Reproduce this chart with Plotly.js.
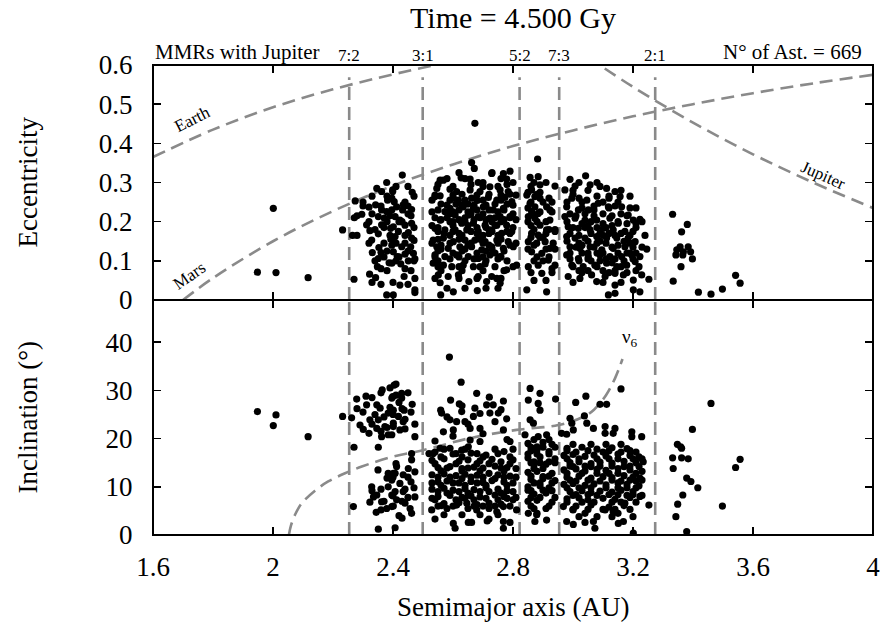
<!DOCTYPE html>
<html><head><meta charset="utf-8">
<script src="https://cdn.plot.ly/plotly-3.0.1.min.js"></script>
<style>html,body{margin:0;padding:0;background:#fff}#chart{width:882px;height:634px}</style>
</head><body><div id="chart"></div>
<script>
// ---------- data ----------
const aTop = [
2.001,1.948,2.010,2.117,2.232,2.270,2.274,2.271,2.265,2.296,2.320,2.346,2.379,2.362,2.342,2.362,2.379,2.351,2.371,2.396,2.312,2.323,2.329,2.351,2.362,2.392,2.393,2.331,2.353,2.360,2.351,2.401,2.387,2.348,2.322,2.342,2.379,2.382,2.399,2.404,
2.431,2.464,2.399,2.396,2.412,2.434,2.432,2.407,2.423,2.440,2.462,2.462,2.401,2.418,2.451,2.462,2.407,2.396,2.429,2.459,2.470,2.440,2.468,2.414,2.426,2.451,2.473,2.396,2.437,2.423,2.473,2.473,2.473,2.401,
2.673,2.662,2.671,2.557,2.568,2.627,2.657,2.684,2.729,2.768,2.790,2.779,
2.546,2.590,2.612,2.657,2.690,2.723,2.757,2.784,
2.540,2.557,2.601,2.618,2.662,2.681,2.718,2.746,2.773,2.796,
2.590,2.634,2.668,2.701,2.734,2.768,
2.573,2.607,2.651,2.684,2.723,2.757,2.790,
2.557,2.590,2.629,2.668,2.707,2.746,2.779,
2.540,2.573,2.607,2.646,2.684,2.723,2.762,2.796,
2.534,2.568,2.601,2.640,2.673,2.707,2.746,2.784,
2.546,2.584,2.623,2.662,2.696,2.729,2.768,2.801,
2.540,2.573,2.612,2.651,2.684,2.723,2.757,
2.534,2.568,2.596,2.634,2.668,2.707,2.740,2.779,2.812,
2.551,2.584,2.618,2.653,2.684,2.712,2.729,2.757,2.557,2.601,2.559,2.681,2.746,
2.882,2.857,2.884,2.890,2.862,2.846,2.873,2.890,2.857,2.873,2.862,2.884,2.851,2.873,2.912,2.923,2.940,2.890,2.923,2.912,2.940,2.862,2.884,2.851,2.879,2.907,2.934,2.862,2.896,2.923,2.851,2.884,2.918,2.940,2.896,2.846,2.912,
3.042,2.990,3.007,3.057,3.112,3.140,2.973,2.996,3.046,3.084,3.118,3.157,3.162,2.979,3.018,3.051,3.184,3.223,3.201,
2.973,3.007,3.040,3.079,3.123,3.151,
2.984,3.018,3.057,3.101,3.134,3.173,
2.979,3.007,3.040,3.079,3.112,3.146,3.184,3.207,
2.990,3.023,3.057,3.096,3.134,3.173,3.246,
2.979,3.018,3.051,3.090,3.123,3.162,3.196,3.223,
2.996,3.034,3.073,3.112,3.146,3.179,3.207,
2.984,3.023,3.062,3.107,3.140,3.168,3.229,3.253,3.079,3.140,3.201,3.223,3.201,3.118,3.140,
3.332,3.381,3.362,3.357,3.384,3.346,3.368,3.392,3.343,3.366,3.398,3.360,3.334,3.418,3.460,3.498,3.542,3.557,
2.60,2.70,2.75,2.63,2.72,2.79,2.56,2.61,2.65,2.74,2.78,2.59,2.66,2.70,2.80,2.60,2.64,2.73,2.76,2.55,2.68,2.71,2.80,2.59,2.63,2.70,2.75,2.56,2.65,2.72,2.79,2.60,2.68,2.74,2.55,2.64,2.71,2.78,
2.86,2.88,2.85,2.87,2.86,2.88,2.92,2.87,2.91,
3.00,3.03,3.07,3.10,3.05,3.09,3.13,3.03,3.08,3.15,3.18,3.06,3.13,3.20,3.02,3.10
];
const eTop = [
0.234,0.071,0.070,0.057,0.179,0.053,0.253,0.210,0.165,0.219,0.237,0.285,0.300,0.277,0.243,0.230,0.226,0.213,0.209,0.230,0.192,0.177,0.153,0.169,0.192,0.183,0.155,0.121,0.134,0.121,0.106,0.123,0.095,0.085,0.066,0.057,0.013,0.255,0.281,0.251,
0.319,0.275,0.277,0.260,0.238,0.243,0.230,0.213,0.204,0.191,0.196,0.231,0.187,0.175,0.172,0.158,0.162,0.140,0.136,0.136,0.152,0.117,0.119,0.111,0.092,0.100,0.105,0.094,0.060,0.038,0.055,0.026,0.019,0.013,
0.451,0.351,0.336,0.306,0.306,0.312,0.309,0.300,0.323,0.323,0.329,0.309,
0.285,0.283,0.277,0.281,0.277,0.289,0.281,0.277,
0.264,0.266,0.260,0.255,0.260,0.254,0.262,0.255,0.262,0.251,
0.234,0.238,0.234,0.238,0.230,0.234,
0.226,0.217,0.217,0.213,0.209,0.213,0.213,
0.204,0.200,0.196,0.196,0.191,0.191,0.191,
0.183,0.179,0.179,0.179,0.175,0.179,0.170,0.175,
0.153,0.158,0.149,0.153,0.153,0.149,0.153,0.149,
0.136,0.132,0.136,0.136,0.128,0.136,0.132,0.136,
0.115,0.111,0.115,0.111,0.106,0.115,0.111,
0.094,0.089,0.085,0.089,0.085,0.092,0.085,0.077,0.089,
0.064,0.060,0.064,0.047,0.060,0.047,0.060,0.043,0.044,0.021,0.013,0.024,0.055,
0.360,0.313,0.315,0.294,0.281,0.268,0.264,0.260,0.247,0.238,0.226,0.221,0.213,0.209,0.238,0.230,0.291,0.191,0.204,0.179,0.175,0.170,0.166,0.149,0.145,0.149,0.145,0.123,0.119,0.132,0.085,0.089,0.102,0.089,0.068,0.026,0.021,
0.317,0.308,0.291,0.294,0.285,0.277,0.281,0.260,0.255,0.247,0.238,0.264,0.238,0.238,0.230,0.230,0.217,0.206,0.204,
0.213,0.209,0.204,0.204,0.209,0.196,
0.187,0.183,0.179,0.183,0.179,0.175,
0.162,0.158,0.158,0.162,0.158,0.158,0.158,0.149,
0.136,0.132,0.136,0.128,0.132,0.136,0.130,
0.115,0.106,0.111,0.115,0.111,0.111,0.115,0.111,
0.089,0.085,0.089,0.094,0.085,0.089,0.098,
0.060,0.055,0.064,0.060,0.068,0.064,0.064,0.053,0.047,0.038,0.051,0.021,0.026,0.013,0.017,
0.219,0.193,0.174,0.136,0.136,0.128,0.123,0.123,0.115,0.115,0.105,0.085,0.048,0.020,0.015,0.028,0.063,0.043,
0.29,0.29,0.29,0.27,0.27,0.27,0.245,0.245,0.245,0.245,0.245,0.22,0.22,0.22,0.22,0.20,0.20,0.20,0.20,0.185,0.185,0.185,0.185,0.165,0.165,0.165,0.165,0.14,0.14,0.14,0.14,0.12,0.12,0.12,0.10,0.10,0.10,0.10,
0.29,0.27,0.235,0.215,0.19,0.20,0.26,0.14,0.17,
0.27,0.25,0.23,0.22,0.19,0.17,0.19,0.14,0.145,0.14,0.12,0.10,0.095,0.175,0.075,0.075
];
// further asteroids of the densest parts of the (a, e) panel
const aTop2 = [
2.58,2.64,2.76, 2.70,2.80, 2.53,2.59,2.64,2.70,2.76, 2.55,2.62,2.68,2.72,2.77, 2.54,2.58,2.64,2.69,2.74,2.79,
2.55,2.60,2.66,2.73,2.78, 2.55,2.62,2.69,2.76, 2.55,2.63,2.71,2.77, 2.59,2.67,2.75, 2.56,2.63,2.70,2.77, 2.58,2.71,
2.30,2.44,2.33,2.45,2.38,2.42,2.34,2.37,2.44,2.37,2.42,2.36,2.44,2.36,2.45,
2.93,2.87,2.92,2.90,2.88,2.92,2.86,2.93,
3.09,3.02,3.12,3.07,3.14,2.99,3.04,3.16,3.03,3.10,3.18,3.21,2.99,3.06,3.12,3.16,3.02,3.11,3.19,2.99,3.05,3.10,3.15,3.21,3.02,3.09,3.17,3.05,3.14,3.21
];
const eTop2 = [
0.31,0.31,0.31, 0.30,0.30, 0.255,0.255,0.255,0.255,0.255, 0.23,0.23,0.23,0.23,0.23, 0.21,0.21,0.21,0.21,0.21,0.21,
0.175,0.175,0.175,0.175,0.175, 0.155,0.155,0.155,0.155, 0.125,0.125,0.125,0.125, 0.105,0.105,0.105, 0.075,0.075,0.075,0.075, 0.03,0.03,
0.25,0.25,0.22,0.22,0.20,0.20,0.18,0.145,0.145,0.11,0.11,0.08,0.08,0.04,0.04,
0.25,0.18,0.18,0.16,0.11,0.11,0.07,0.07,
0.29,0.26,0.26,0.24,0.24,0.22,0.22,0.22,0.195,0.195,0.195,0.195,0.17,0.17,0.17,0.17,0.145,0.145,0.145,0.12,0.12,0.12,0.12,0.12,0.10,0.10,0.10,0.075,0.075,0.075
];
const aTop3 = [
2.62,2.73, 2.55,2.66,2.78, 2.54,2.60,2.68,2.76,2.81, 2.58,2.63,2.67,2.71,2.80, 2.53,2.60,2.65,2.75, 2.56,2.62,2.67,2.71,2.77,2.81,
2.53,2.60,2.65,2.74, 2.57,2.62,2.68,2.72,2.79, 2.53,2.59,2.66,2.70,2.75,2.81, 2.56,2.64,2.73, 2.54,2.62,2.70,2.76, 2.55,2.62,2.69,2.80,
2.54,2.62,2.68,2.76, 2.64,2.75,
2.87,2.91, 2.85,2.89, 2.86,2.90, 2.89,2.93, 2.85,2.91, 2.94, 2.86,2.89, 2.85,2.91,2.94, 2.87,2.90, 2.93, 2.87,2.91,
3.02,3.08, 3.00,3.05,3.16, 3.08,3.12,3.19, 2.98,3.10,3.15, 3.03,3.12,3.19,3.21, 3.01,3.07,3.13,3.18, 2.98,3.06,3.15,3.23,
3.00,3.04,3.08,3.11,3.21, 3.02,3.10,3.14,3.19,3.24, 2.98,3.05,3.09,3.17, 3.01,3.07,3.13,3.20,3.23, 3.03,3.08,3.19,
2.99,3.05,3.11,3.14,3.20, 3.00,3.08,3.16,3.22, 3.03,3.12,3.18, 3.00,3.10,3.16,
2.41,2.45, 2.33,2.38,2.47, 2.30,2.36,2.45, 2.28,2.39,2.46, 2.32,2.43, 2.37,2.47, 2.28,2.39,2.44, 2.32,2.41, 2.38,2.45, 2.34,2.41,2.47, 2.38,2.46, 2.33,2.40
];
const eTop3 = [
0.325,0.325, 0.295,0.295,0.295, 0.268,0.268,0.268,0.268,0.268, 0.242,0.242,0.242,0.242,0.242, 0.225,0.225,0.225,0.225, 0.205,0.205,0.205,0.205,0.205,0.205,
0.19,0.19,0.19,0.19, 0.17,0.17,0.17,0.17,0.17, 0.145,0.145,0.145,0.145,0.145,0.145, 0.13,0.13,0.13, 0.11,0.11,0.11,0.11, 0.085,0.085,0.085,0.085,
0.055,0.055,0.055,0.055, 0.03,0.03,
0.30,0.30, 0.275,0.275, 0.25,0.25, 0.225,0.225, 0.20,0.20, 0.18, 0.16,0.16, 0.13,0.13,0.13, 0.10,0.10, 0.08, 0.05,0.05,
0.30,0.30, 0.28,0.28,0.28, 0.265,0.265,0.265, 0.25,0.25,0.25, 0.235,0.235,0.235,0.235, 0.215,0.215,0.215,0.215, 0.20,0.20,0.20,0.20,
0.185,0.185,0.185,0.185,0.185, 0.165,0.165,0.165,0.165,0.165, 0.15,0.15,0.15,0.15, 0.135,0.135,0.135,0.135,0.135, 0.12,0.12,0.12,
0.105,0.105,0.105,0.105,0.105, 0.085,0.085,0.085,0.085, 0.07,0.07,0.07, 0.045,0.045,0.045,
0.29,0.29, 0.265,0.265,0.265, 0.24,0.24,0.24, 0.215,0.215,0.215, 0.20,0.20, 0.185,0.185, 0.165,0.165,0.165, 0.145,0.145, 0.125,0.125, 0.10,0.10,0.10, 0.075,0.075, 0.045,0.045
];
const aBot = [
1.948,2.010,2.001,2.117,2.232,2.279,2.270,2.262,2.268,2.312,2.346,2.364,2.357,2.396,2.404,2.384,2.351,2.323,2.301,2.320,2.346,2.362,2.384,2.373,2.401,2.351,2.384,2.401,2.329,2.384,2.346,2.335,2.362,2.323,2.396,2.344,2.379,2.351,2.401,
2.410,2.399,2.429,2.429,2.437,2.401,2.418,2.434,2.401,2.423,2.464,2.473,2.473,2.396,2.462,2.462,2.451,2.473,2.412,2.434,2.407,2.396,2.423,2.434,2.407,2.412,2.440,2.457,2.473,2.462,2.396,2.407,
2.588,2.627,2.592,2.621,2.679,2.721,2.768,2.559,2.562,2.629,2.673,2.668,2.712,2.734,2.751,2.723,2.779,2.590,2.612,2.640,2.568,2.601,2.657,2.690,2.768,2.657,2.690,2.790,2.534,2.557,2.590,2.629,2.651,
2.529,2.562,2.601,2.607,2.651,2.662,2.714,2.768,2.790,2.768,2.812,2.612,2.646,2.679,2.746,2.768,
2.857,2.890,2.851,2.884,2.890,2.942,3.009,3.043,3.160,3.090,3.112,2.990,2.996,3.038,2.857,2.868,3.001,3.046,3.068,3.107,3.140,3.107,3.134,3.196,3.196,3.229,2.962,2.979,2.884,2.912,2.840,
3.253,3.223,3.234,3.201,3.168,3.151,3.073,3.068,3.040,3.001,2.979,2.912,2.873,2.879,2.851,2.968,3.000,3.107,3.134,3.173,3.223,
3.460,3.398,3.348,3.359,3.362,3.332,3.362,3.384,3.334,3.379,3.393,3.416,3.366,3.349,3.343,3.379,3.498,3.542,3.557,
2.54,2.60,2.66,2.71,2.77,
2.53,2.57,2.62,2.65,2.69,2.73,2.76,2.80,
2.55,2.59,2.63,2.67,2.70,2.74,2.78,2.81,
2.53,2.57,2.61,2.64,2.68,2.72,2.75,2.79,
2.55,2.58,2.62,2.66,2.70,2.73,2.77,2.80,
2.53,2.57,2.60,2.64,2.67,2.71,2.75,2.78,
2.55,2.59,2.63,2.66,2.69,2.74,2.77,2.81,
2.57,2.62,2.68,2.72,2.76,
2.85,2.90,2.93,2.86,2.88,2.92,2.85,2.89,2.94,2.87,2.91,2.85,2.88,2.93,2.86,2.90,2.94,2.85,2.89,2.92,2.87,2.91,2.85,2.88,2.93,
2.98,3.03,3.08,3.13,3.18,
2.97,3.00,3.04,3.07,3.11,3.15,3.19,3.22,
2.99,3.02,3.06,3.09,3.13,3.17,3.21,
2.97,3.01,3.04,3.08,3.11,3.15,3.19,3.23,
2.98,3.02,3.06,3.10,3.13,3.17,3.20,
2.97,3.00,3.04,3.07,3.11,3.15,3.18,3.22,
2.99,3.03,3.06,3.09,3.13,3.16,3.20,
2.98,3.02,3.05,3.10,3.14,3.19,
3.01,3.06,3.12,3.17
];
const incBot = [
25.6,24.9,22.7,20.4,24.6,28.2,18.2,24.3,5.9,27.0,27.0,30.1,26.3,28.4,31.1,25.3,23.9,23.9,21.9,21.1,22.1,20.4,20.8,22.5,23.2,18.2,12.8,12.8,10.0,10.0,8.3,7.9,6.9,6.8,8.3,4.7,5.5,1.2,6.0,
31.3,28.7,29.4,28.4,25.9,25.9,24.6,23.5,22.5,21.8,27.1,23.0,20.4,20.8,16.9,15.6,13.8,13.1,14.2,12.5,12.8,11.4,10.7,9.0,9.0,7.3,6.6,5.5,7.9,4.5,5.9,1.5,
36.9,31.7,28.0,27.2,29.4,28.6,27.8,25.9,25.3,25.6,26.3,24.6,27.0,27.0,25.3,25.3,24.1,23.9,23.5,23.5,21.4,21.8,22.1,22.1,21.8,19.7,19.4,19.4,16.9,18.0,18.0,17.6,18.3,
5.2,6.1,2.4,1.4,2.6,2.6,2.9,2.8,2.6,1.4,5.2,6.2,6.6,5.2,4.8,5.9,
30.4,29.4,28.0,27.3,25.9,28.2,27.5,28.8,30.3,27.1,27.1,24.2,23.2,24.7,23.9,23.2,21.8,23.2,22.1,22.5,22.1,21.1,21.1,21.4,20.4,20.4,21.1,20.9,20.4,20.8,20.8,
6.2,11.8,15.2,0.4,2.8,2.4,1.4,2.8,2.6,2.2,2.8,3.1,2.8,4.2,4.5,5.9,5.2,5.2,4.8,6.6,8.0,
27.3,21.9,18.8,18.3,18.0,16.0,16.0,15.8,13.8,11.8,11.1,9.8,8.3,6.4,3.8,0.7,6.0,14.0,15.7,
17.2,16.8,17.0,16.6,17.3,
15.5,15.8,15.3,15.6,15.4,15.7,15.2,15.6,
14.0,14.2,13.8,14.1,13.9,14.3,14.0,13.8,
12.5,12.7,12.3,12.6,12.4,12.8,12.5,12.2,
11.0,11.2,10.8,11.1,10.9,11.3,11.0,10.8,
9.5,9.7,9.3,9.6,9.4,9.8,9.5,9.2,
8.0,8.2,7.8,8.1,7.9,8.3,8.0,7.8,
6.5,6.7,6.3,6.6,6.4,
19.0,19.2,18.8,17.5,17.7,17.3,16.0,16.2,15.8,14.5,14.7,13.0,13.2,12.8,11.5,11.7,11.3,10.0,10.2,9.8,8.5,8.7,7.0,7.2,6.8,
18.0,18.2,17.8,18.1,17.9,
16.5,16.7,16.3,16.6,16.4,16.8,16.5,16.2,
15.0,15.2,14.8,15.1,14.9,15.3,15.0,
13.5,13.7,13.3,13.6,13.4,13.8,13.5,13.2,
12.0,12.2,11.8,12.1,11.9,12.3,12.0,
10.5,10.7,10.3,10.6,10.4,10.8,10.5,10.2,
9.0,9.2,8.8,9.1,8.9,9.3,9.0,
7.5,7.7,7.3,7.6,7.4,7.8,
6.0,6.2,5.8,6.1
];
// further asteroids of the densest parts of the (a, i) panel
const aBot2 = [
2.56,2.63,2.70,2.79, 2.56,2.63,2.69,2.77, 2.56,2.64,2.71,2.78, 2.54,2.61,2.67,2.75,2.80, 2.58,2.65,2.72,
2.88,2.87,2.92,2.90,2.86,2.93,2.87,2.91,
3.01,3.10,3.16,3.21, 3.00,3.06,3.17,3.22, 3.01,3.09,3.16,3.21, 3.00,3.08,3.18,3.23, 3.04,3.15,
2.40,2.45,2.36,2.44,2.37,2.43,2.42,
2.30,2.33,2.37,2.39,2.42,2.45,2.44,2.36,2.29
];
const incBot2 = [
16.2,16.2,16.2,16.2, 13.3,13.3,13.3,13.3, 10.3,10.3,10.3,10.3, 7.3,7.3,7.3,7.3,7.3, 5.5,5.5,5.5,
18.3,15.2,15.2,12.1,9.2,9.2,5.5,5.5,
17.2,17.2,17.2,17.2, 14.2,14.2,14.2,14.2, 11.2,11.2,11.2,11.2, 8.2,8.2,8.2,8.2, 4.5,4.5,
12.0,12.0,9.5,9.5,7.0,7.0,4.0,
25.5,28.5,24.5,26.5,27.5,29.5,22.0,21.5,22.8
];
const aBot3 = [
2.57,2.64,2.74,2.80, 2.52,2.61,2.68,2.75, 2.54,2.61,2.68,2.72,2.79, 2.58,2.65,2.76, 2.55,2.59,2.66,2.70,2.77,2.81, 2.63,2.74,
2.53,2.60,2.68, 2.55,2.62,2.69,2.72,2.80, 2.58,2.65,2.76, 2.53,2.64,2.71,2.78, 2.55,2.60,2.67,2.70,2.74,2.79, 2.57,2.63,2.69,2.75, 2.54,2.72,
2.87,2.92, 2.86,2.90,2.94, 2.85,2.88,2.92, 2.86,2.89,2.94, 2.87,2.90, 2.86,2.92, 2.87,2.89,2.93, 2.85,2.90, 2.86,2.89,2.94, 2.86,2.92, 2.88,
3.00,3.06,3.11,3.16, 2.98,3.05,3.12,3.19, 2.98,3.02,3.08,3.12,3.15,3.20,3.23, 2.99,3.04,3.09,3.13,3.19, 2.98,3.03,3.08,3.12,3.15,3.21,
2.99,3.05,3.13,3.19,3.23, 2.98,3.02,3.06,3.11,3.15,3.18,3.21, 3.01,3.05,3.12,3.15,3.20, 2.98,3.03,3.07,3.13,3.16,3.21, 3.00,3.05,3.10,3.14,3.19, 3.02,3.08,3.13,3.20,
2.35,2.41,2.46,2.38,2.33,2.40,2.45,2.36,2.43,2.47,
2.31,2.34,2.36,2.38,2.40,2.41,2.43,2.44,2.46,2.33,2.28,2.39,
2.54,2.60,2.65,2.70,2.74,2.78,2.63,2.58,2.76,2.69
];
const incBot3 = [
17.8,17.8,17.8,17.8, 16.9,16.9,16.9,16.9, 14.8,14.8,14.8,14.8,14.8, 13.9,13.9,13.9, 12.0,12.0,12.0,12.0,12.0,12.0, 11.7,11.7,
10.8,10.8,10.8, 9.0,9.0,9.0,9.0,9.0, 8.7,8.7,8.7, 7.6,7.6,7.6,7.6, 6.0,6.0,6.0,6.0,6.0,6.0, 4.2,4.2,4.2,4.2, 3.3,3.3,
19.8,19.8, 18.2,18.2,18.2, 16.8,16.8,16.8, 15.0,15.0,15.0, 13.8,13.8, 12.2,12.2, 10.8,10.8,10.8, 9.3,9.3, 7.8,7.8,7.8, 6.0,6.0, 4.5,
18.8,18.8,18.8,18.8, 17.5,17.5,17.5,17.5, 15.8,15.8,15.8,15.8,15.8,15.8,15.8, 14.3,14.3,14.3,14.3,14.3, 12.8,12.8,12.8,12.8,12.8,12.8,
11.4,11.4,11.4,11.4,11.4, 9.8,9.8,9.8,9.8,9.8,9.8,9.8, 8.4,8.4,8.4,8.4,8.4, 6.8,6.8,6.8,6.8,6.8,6.8, 5.3,5.3,5.3,5.3,5.3, 3.8,3.8,3.8,3.8,
13.5,14.8,11.0,11.8,9.2,8.1,7.8,5.2,3.5,9.8,
28.8,25.0,29.5,22.3,25.0,29.0,26.2,24.0,25.5,23.0,26.2,30.5,
19.5,20.5,23.0,21.0,23.5,19.8,26.8,24.5,26.0,25.2
];
// Mean-motion resonances with Jupiter
const mmrA = [2.254, 2.499, 2.822, 2.954, 3.274];
const mmrLabels = ['7:2', '3:1', '5:2', '7:3', '2:1'];
const mmrTopE = 0.569;
// planet-crossing curves
const earthA = [1.60, 1.80, 2.00, 2.20, 2.40, 2.53, 2.60];
const earthE = [0.365, 0.435, 0.492, 0.538, 0.576, 0.598, 0.609];
const marsA = [1.70, 1.80, 2.00, 2.20, 2.40, 2.60, 2.80, 3.00, 3.20, 3.40, 3.60, 3.80, 4.00];
const marsE = [0.000, 0.056, 0.150, 0.227, 0.292, 0.346, 0.393, 0.433, 0.469, 0.500, 0.528, 0.553, 0.575];
const jupA = [3.05, 3.20, 3.40, 3.60, 3.80, 4.00];
const jupE = [0.620, 0.544, 0.453, 0.372, 0.300, 0.235];
// nu6 secular resonance
const nu6A = [2.053, 2.060, 2.075, 2.096, 2.140, 2.184, 2.240, 2.296, 2.396, 2.500, 2.657, 2.812, 2.951, 3.034, 3.070, 3.110, 3.140, 3.165];
const nu6I = [0.0, 2.0, 4.4, 6.6, 9.2, 11.1, 12.8, 14.2, 16.2, 17.6, 20.1, 21.8, 22.8, 24.5, 26.0, 29.0, 32.5, 36.5];
// ticks
const xTicks = [1.6, 2.0, 2.4, 2.8, 3.2, 3.6, 4.0];
const xTickText = ['1.6', '2', '2.4', '2.8', '3.2', '3.6', '4'];
const eTicks = [0, 0.1, 0.2, 0.3, 0.4, 0.5, 0.6];
const eTickText = ['0', '0.1', '0.2', '0.3', '0.4', '0.5', '0.6'];
const iTicks = [0, 10, 20, 30, 40];
const iMax = 48.75;
const nAst = 669;

// ---------- drawing ----------
const FONT = 'Liberation Serif, Times New Roman, serif';
const GREY = '#8a8a8a';
const DASH = '13px,7px';
const dashLine = {color: GREY, width: 2.6, dash: DASH};

const vxTop = [], vyTop = [], vxBot = [], vyBot = [];
mmrA.forEach(a => {
  vxTop.push(a, a, null); vyTop.push(0, mmrTopE, null);
  vxBot.push(a, a, null); vyBot.push(0, iMax, null);
});

const traces = [
  {x: vxTop, y: vyTop, xaxis: 'x', yaxis: 'y', mode: 'lines', line: dashLine, hoverinfo: 'skip'},
  {x: vxBot, y: vyBot, xaxis: 'x2', yaxis: 'y2', mode: 'lines', line: dashLine, hoverinfo: 'skip'},
  {x: earthA, y: earthE, xaxis: 'x', yaxis: 'y', mode: 'lines', line: Object.assign({shape: 'spline'}, dashLine)},
  {x: marsA, y: marsE, xaxis: 'x', yaxis: 'y', mode: 'lines', line: Object.assign({shape: 'spline'}, dashLine)},
  {x: jupA, y: jupE, xaxis: 'x', yaxis: 'y', mode: 'lines', line: Object.assign({shape: 'spline'}, dashLine)},
  {x: nu6A, y: nu6I, xaxis: 'x2', yaxis: 'y2', mode: 'lines', line: Object.assign({shape: 'spline'}, dashLine)},
  {x: aTop.concat(aTop2, aTop3), y: eTop.concat(eTop2, eTop3), xaxis: 'x', yaxis: 'y', type: 'scatter', mode: 'markers', marker: {color: '#000', size: 7.2}},
  {x: aBot.concat(aBot2, aBot3), y: incBot.concat(incBot2, incBot3), xaxis: 'x2', yaxis: 'y2', type: 'scatter', mode: 'markers', marker: {color: '#000', size: 7.2}}
];

const axCommon = {
  showline: true, linecolor: '#000', linewidth: 1, mirror: 'allticks',
  ticks: 'inside', ticklen: 8, tickwidth: 1.5, tickcolor: '#000',
  showgrid: false, zeroline: false,
  tickfont: {family: FONT, size: 27, color: '#000'}
};

const layout = {
  width: 882, height: 634,
  margin: {l: 153, r: 9, t: 65, b: 99},
  paper_bgcolor: '#fff', plot_bgcolor: '#fff',
  showlegend: false,
  font: {family: FONT, color: '#000'},
  title: {text: 'Time = 4.500 Gy', font: {family: FONT, size: 30, color: '#000'},
          x: 0.5, xref: 'paper', xanchor: 'center', y: 0.972, yref: 'container', yanchor: 'middle'},
  xaxis: Object.assign({}, axCommon, {domain: [0, 1], anchor: 'y', range: [1.6, 4], tickvals: xTicks, showticklabels: false, matches: 'x2'}),
  xaxis2: Object.assign({}, axCommon, {domain: [0, 1], anchor: 'y2', range: [1.6, 4], tickvals: xTicks, ticktext: xTickText, ticklabelstandoff: 8}),
  yaxis: Object.assign({}, axCommon, {domain: [0.5, 1], anchor: 'x', range: [0, 0.6], tickvals: eTicks, ticktext: eTickText, ticklabelstandoff: 14}),
  yaxis2: Object.assign({}, axCommon, {domain: [0, 0.5], anchor: 'x2', range: [0, iMax], tickvals: iTicks, ticklabelstandoff: 14}),
  shapes: [
    {type: 'rect', xref: 'paper', yref: 'paper', x0: 0, x1: 1, y0: 0, y1: 1, line: {color: '#000', width: 2}, fillcolor: 'rgba(0,0,0,0)', layer: 'above'}
  ],
  annotations: [
    {text: 'MMRs with Jupiter', xref: 'paper', x: 0, xanchor: 'left', yref: 'paper', y: 1, yanchor: 'middle', yshift: 13, showarrow: false, font: {family: FONT, size: 21}},
    {text: 'N° of Ast. = ' + nAst, xref: 'paper', x: 1, xanchor: 'right', xshift: -9, yref: 'paper', y: 1, yanchor: 'middle', yshift: 13, showarrow: false, font: {family: FONT, size: 21}},
    {text: 'Eccentricity', xref: 'paper', x: 0, xshift: -126, xanchor: 'center', yref: 'paper', y: 0.75, yanchor: 'middle', textangle: -90, showarrow: false, font: {family: FONT, size: 27}},
    {text: 'Inclination (°)', xref: 'paper', x: 0, xshift: -126, xanchor: 'center', yref: 'paper', y: 0.25, yanchor: 'middle', textangle: -90, showarrow: false, font: {family: FONT, size: 27}},
    {text: 'Semimajor axis (AU)', xref: 'paper', x: 0.5, xanchor: 'center', yref: 'paper', y: 0, yanchor: 'middle', yshift: -72, showarrow: false, font: {family: FONT, size: 27}},
    {text: 'Earth', xref: 'x', x: 1.73, yref: 'y', y: 0.46, textangle: -27, showarrow: false, font: {family: FONT, size: 17}},
    {text: 'Mars', xref: 'x', x: 1.723, yref: 'y', y: 0.062, textangle: -35, showarrow: false, font: {family: FONT, size: 17}},
    {text: 'Jupiter', xref: 'x', x: 3.835, yref: 'y', y: 0.318, textangle: 24, showarrow: false, font: {family: FONT, size: 17}},
    {text: 'ν<sub>6</sub>', xref: 'x2', x: 3.19, yref: 'y2', y: 40.9, showarrow: false, font: {family: FONT, size: 19}}
  ].concat(mmrA.map((a, k) => ({
    text: mmrLabels[k], xref: 'x', x: a, xanchor: 'center', yref: 'paper', y: 1, yanchor: 'middle', yshift: 10,
    showarrow: false, font: {family: FONT, size: 17}
  })))
};

Plotly.newPlot('chart', traces, layout, {staticPlot: true, displayModeBar: false});
</script></body></html>
